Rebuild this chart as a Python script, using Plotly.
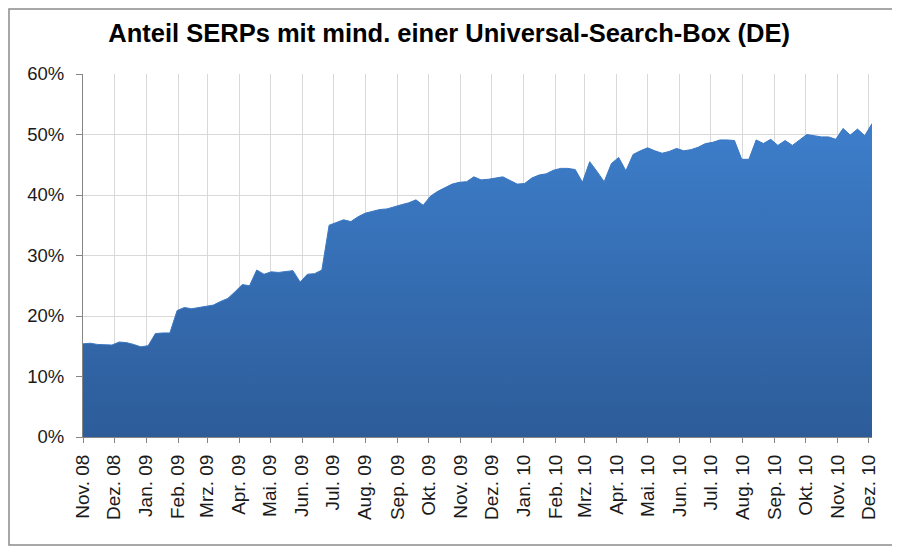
import plotly.graph_objects as go
import pandas as pd

# weekly values (share in %), first week Nov 2008
wochen_start = "2008-11-01"
anteil = [
    15.4, 15.5, 15.3, 15.2, 15.2, 15.7, 15.6, 15.3, 14.9, 15.1,
    17.1, 17.2, 17.2, 20.9, 21.4, 21.2, 21.4, 21.5, 21.8, 22.4,
    22.9, 24.0, 25.2, 25.0, 27.6, 26.9, 27.3, 27.2, 27.3, 27.5,
    25.6, 26.9, 27.0, 27.6, 35.0, 35.4, 35.9, 35.6, 36.4, 37.0,
    37.3, 37.6, 37.7, 38.1, 38.4, 38.7, 39.2, 38.3, 39.8, 40.6,
    41.2, 41.8, 42.1, 42.2, 43.0, 42.5, 42.6, 42.8, 43.0, 42.4,
    41.8, 41.9, 42.8, 43.3, 43.5, 44.1, 44.4, 44.4, 44.2, 42.1,
    45.5, 43.9, 42.2, 45.2, 46.2, 44.0, 46.7, 47.3, 47.8, 47.3,
    46.9, 47.2, 47.7, 47.3, 47.5, 47.9, 48.5, 48.7, 49.1, 49.1,
    49.0, 45.9, 45.9, 49.1, 48.5, 49.2, 48.2, 49.0, 48.2, 49.1,
    50.0, 49.8, 49.6, 49.6, 49.2, 51.0, 49.9, 50.9, 49.8, 51.8,
]
monate = ["Nov.", "Dez.", "Jan.", "Feb.", "Mrz.", "Apr.", "Mai.", "Jun.",
          "Jul.", "Aug.", "Sep.", "Okt."]

daten = pd.DataFrame({
    "datum": pd.date_range(wochen_start, periods=len(anteil), freq="7D"),
    "anteil": [a / 100 for a in anteil],
})

tick_daten = pd.date_range("2008-11-01", "2010-12-01", freq="MS")
tick_text = [monate[(d.month - 11) % 12] + " " + d.strftime("%y") for d in tick_daten]

fig = go.Figure()
fig.add_trace(go.Scatter(
    x=daten["datum"], y=daten["anteil"],
    mode="lines", fill="tozeroy",
    line=dict(color="#3a77c2", width=1),
    fillgradient=dict(type="vertical",
                      colorscale=[[0, "#2d5c99"], [1, "#3d7ecb"]]),
    hoverinfo="x+y",
))

# page body adds 8px, so the figure is 8px smaller than the window
fig.update_layout(
    width=892, height=540, autosize=False,
    margin=dict(l=75, r=28, t=66, b=111),
    paper_bgcolor="white", plot_bgcolor="white",
    showlegend=False,
    font=dict(family="Liberation Sans, Arial, sans-serif", color="#1a1a1a"),
    title=dict(text="<b>Anteil SERPs mit mind. einer Universal-Search-Box (DE)</b>",
               x=0.464, xref="paper", xanchor="center",
               y=0.954, yanchor="middle",
               font=dict(size=25.5, color="black")),
    shapes=[dict(type="rect", xref="paper", yref="paper",
                 x0=-0.0938, x1=1.0317, y0=-0.2975, y1=1.179,
                 line=dict(color="#8c8c8c", width=1.5), layer="below")],
)
fig.update_xaxes(
    type="date", range=["2008-11-01", "2010-12-04"], automargin=False,
    tickvals=tick_daten, ticktext=tick_text, tickangle=-90,
    tickfont=dict(size=19), ticklabelstandoff=4,
    showgrid=True, gridcolor="#d9d9d9", gridwidth=1,
    showline=True, linecolor="#868686", linewidth=1,
    ticks="outside", ticklen=5, tickcolor="#868686",
)
fig.update_yaxes(
    range=[0, 0.6], dtick=0.1, tickformat=".0%", automargin=False,
    tickfont=dict(size=18.5), ticklabelstandoff=8,
    showgrid=True, gridcolor="#d9d9d9", gridwidth=1,
    showline=True, linecolor="#868686", linewidth=1,
    ticks="outside", ticklen=6, tickcolor="#868686",
    zeroline=False,
)

fig.write_html("out.html")
